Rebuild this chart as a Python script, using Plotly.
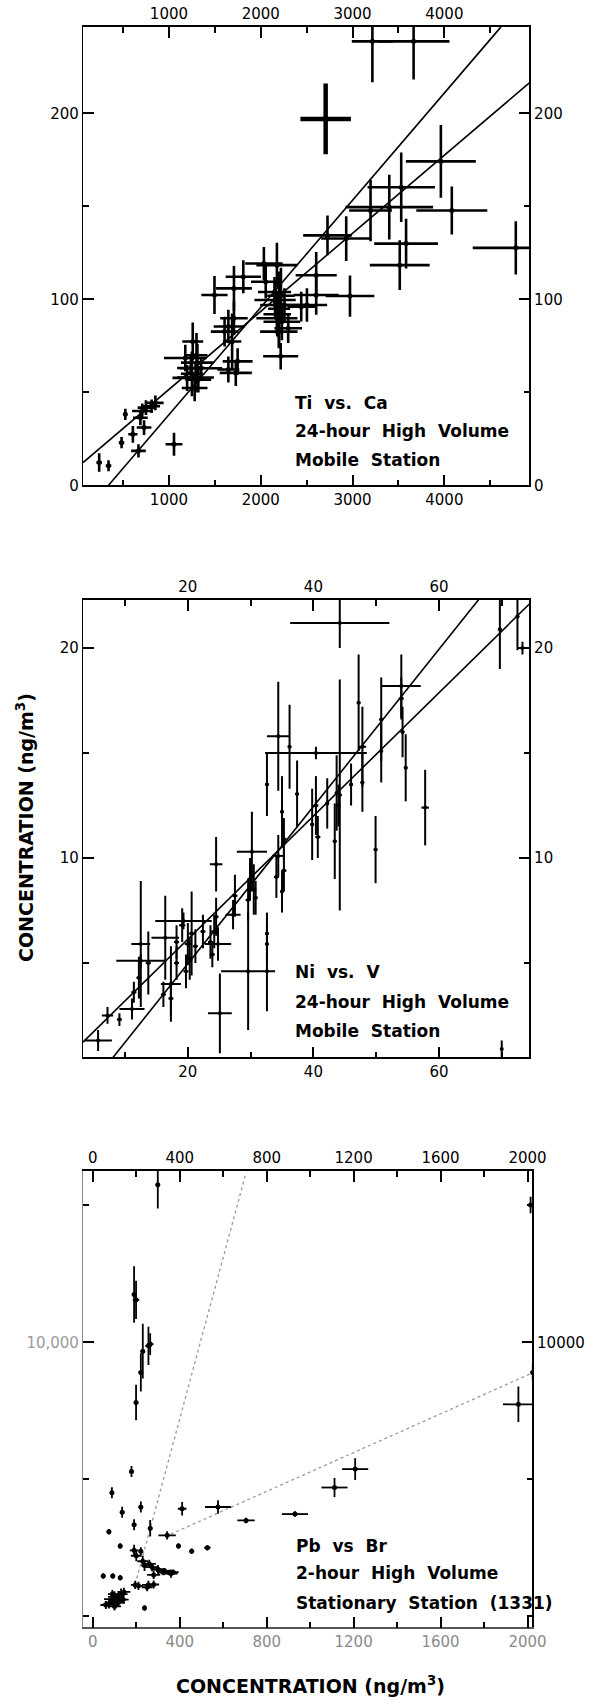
import plotly.graph_objects as go

# ---------------- Panel 1: Ti vs. Ca (24-hour High Volume, Mobile Station) ----------------
ca = [3216, 3665, 3962, 3530, 3196, 3400, 4081, 4778, 3583, 3514, 2931, 2727, 2972, 2604, 2604, 2503,
      2034, 2176, 2054, 2156, 2258, 2176, 2197, 2217, 2299, 2441, 2200, 2220, 1810, 1496, 1708, 1708,
      1647, 1606, 1688, 1748, 1728, 1647, 1259, 1178, 1239, 1198, 1320, 1280, 1350, 1300, 811, 709,
      689, 729, 607, 484, 668, 1055, 240, 342, 525, 749, 852,
      2180, 2230, 2150, 1290, 1310, 1250]
ti = [238.7, 238.7, 174.2, 160.3, 147.8, 149.6, 147.8, 127.7, 130.0, 118.4, 132.7, 134.4, 101.8, 113.0,
      102.4, 97.0, 119.3, 118.4, 109.5, 99.7, 97.0, 89.9, 82.7, 69.4, 84.5, 96.1, 95.0, 102.0, 112.2,
      102.4, 105.9, 89.9, 85.4, 82.7, 77.4, 66.7, 60.5, 62.3, 77.4, 68.5, 63.1, 57.8, 56.9, 52.4, 63.0,
      70.0, 42.6, 40.0, 36.4, 31.1, 27.5, 23.0, 18.6, 22.1, 12.3, 10.6, 38.2, 41.8, 44.4,
      92, 88, 104, 58, 66, 60]
ca_err = [224, 390, 381, 367, 233, 477, 387, 469, 347, 326, 273, 265, 265, 224, 245, 220, 204, 224, 160,
          225, 265, 224, 204, 191, 150, 150, 120, 150, 192, 143, 195, 150, 160, 150, 100, 163, 175, 120,
          114, 232, 150, 160, 140, 140, 230, 120, 92, 110, 80, 80, 50, 30, 80, 92, 30, 30, 20, 90, 90,
          150, 200, 180, 200, 180, 120]
ti_err = [22, 20.5, 19.6, 18.7, 16.5, 17.4, 12.9, 14.3, 13.4, 13.4, 12, 10.7, 11.1, 12.5, 10.7, 9, 8.9,
          12, 9, 10, 9, 8.9, 9, 7.1, 8, 8, 20, 15, 8.9, 10.2, 12, 9, 9, 8, 15, 7.1, 7, 7, 10.2, 7.1, 7, 7,
          7, 7.1, 6, 12, 3.6, 4, 4, 4, 4.5, 3, 3.6, 6.2, 5, 3, 3, 4, 4,
          12, 10, 8, 8, 10, 12]
big_ca, big_ti, big_ca_err, big_ti_err = [2707], [197], [275], [19]
ti_fit_a_x, ti_fit_a_y = [340, 4617], [0, 246.5]
ti_fit_b_x, ti_fit_b_y = [64, 4926], [12.3, 216.4]

# ---------------- Panel 2: Ni vs. V (24-hour High Volume, Mobile Station) ----------------
v = [44.2, 44.2, 69.7, 72.5, 73.3, 54, 54, 47.2, 50.8, 54.2, 34.4, 36.2, 40.4, 47.8, 50.8, 54.7, 47.8,
     32.6, 37.4, 35, 57.8, 40.4, 42.2, 46, 43.7, 44, 43.4, 39.8, 40.7, 49.9, 30.2, 35.3, 34.4, 35.3, 34.1,
     35, 24.5, 29.9, 30.5, 29.6, 30.8, 27.5, 27.2, 24.5, 24.2, 24.8, 23.9, 23.6, 20.6, 20, 20.3, 19.1,
     19.3, 16.4, 18.2, 21.2, 22.4, 18.2, 19.7, 17.3, 17.3, 16.1, 12.5, 12.5, 12.2, 11.4, 13.7, 11.1, 7.2,
     9.1, 5.7, 29.6, 32.6, 32.6, 32.6, 25.1, 70]
ni = [21.2, 13.0, 20.9, 21.5, 20.0, 18.2, 17.6, 17.4, 16.6, 16.0, 15.8, 15.3, 15.0, 15.3, 15.1, 14.3,
      13.6, 13.5, 13.05, 12.2, 12.4, 12.5, 12.6, 13.5, 13.1, 12.5, 10.8, 11.6, 11.0, 10.4, 10.3, 10.9,
      10.1, 9.4, 9.1, 8.4, 9.7, 9.0, 8.5, 8.0, 8.1, 8.2, 7.3, 7.2, 6.5, 5.9, 5.4, 6.0, 6.4, 5.9, 5.2, 6.8,
      7.0, 6.2, 6.0, 5.8, 6.5, 5.0, 4.6, 4.0, 3.3, 3.5, 5.9, 5.1, 4.3, 3.6, 5.0, 2.8, 2.5, 2.3, 1.3, 4.6,
      4.6, 6.4, 5.9, 2.6, 0.9]
v_err = [7.9, 0.3, 0.3, 0.3, 0.7, 3.1, 0.4, 0.3, 0.3, 0.3, 1.8, 0.3, 8.1, 0.6, 0.3, 0.3, 0.3, 0.3, 0.3,
         0.3, 0.6, 0.4, 0.3, 0.3, 0.3, 0.3, 0.3, 0.3, 0.4, 0.3, 2.4, 0.4, 1.0, 0.4, 0.4, 0.3, 1.0, 0.4, 0.4,
         0.4, 0.3, 0.4, 1.2, 0.4, 0.5, 2.1, 0.4, 0.4, 0.5, 0.5, 0.4, 0.5, 4.5, 2.2, 0.4, 0.4, 0.4, 0.4, 0.4,
         1.6, 0.4, 0.4, 1.5, 3.9, 0.4, 0.4, 0.4, 2.0, 0.9, 0.4, 2.2, 4.3, 0.3, 0.3, 0.3, 1.9, 0.2]
ni_err = [1.2, 5.5, 1.9, 1.6, 0.3, 1.5, 1.0, 2.3, 2.0, 1.2, 2.6, 2.0, 0.3, 1.9, 1.5, 1.6, 1.4, 1.5, 1.6,
          1.7, 1.8, 1.4, 1.2, 1.0, 1.8, 1.0, 1.8, 1.7, 1.0, 1.6, 1.9, 1.0, 1.0, 1.0, 1.0, 1.0, 1.3, 1.0, 1.2,
          1.0, 0.8, 1.0, 0.7, 0.9, 0.8, 0.8, 0.6, 0.8, 2.0, 1.0, 1.0, 0.8, 0.4, 2.0, 0.8, 0.8, 0.8, 0.8, 0.8,
          1.8, 0.8, 0.6, 3.0, 0.3, 1.0, 0.5, 1.5, 0.5, 0.4, 0.3, 0.5, 2.8, 1.9, 1.0, 0.9, 1.9, 0.4]
ni_fit_a_x, ni_fit_a_y = [3.3, 74.4], [1.23, 22.1]
ni_fit_b_x, ni_fit_b_y = [8.07, 66.3], [0.5, 22.3]

# ---------------- Panel 3: Pb vs Br (2-hour High Volume, Stationary Station 1331) ----------------
br = [299, 2014, 190, 199, 230, 221, 256, 264, 199, 1958, 2024, 1207, 1112, 930, 705, 576, 411, 178, 88,
      135, 221, 190, 264, 342, 394, 455, 527, 74, 126, 221, 238, 273, 325, 351, 195, 256, 143, 92, 74,
      118, 48, 92, 126, 238, 100, 110, 130, 115, 280, 300, 360,
      60, 80, 100, 120, 140, 90, 200, 230, 260, 300, 330, 370, 210, 250, 280, 190]
pb = [15758, 15020, 11746, 11552, 9676, 8900, 9870, 9935, 7800, 7735, 8900, 5367, 4694, 3723, 3490, 3982,
      3917, 5277, 4500, 3789, 3982, 3335, 3206, 2947, 2558, 2365, 2494, 3077, 2558, 2365, 1847, 1783,
      1589, 1589, 1135, 1135, 877, 617, 424, 489, 1460, 1460, 1395, 294, 700, 550, 800, 650, 1500, 1700,
      1550,
      400, 500, 350, 700, 600, 800, 2200, 2000, 1900, 1700, 1650, 1600, 1100, 1050, 1150, 2400]
br_err = [10, 10, 10, 15, 10, 10, 15, 15, 10, 71, 10, 60, 60, 60, 40, 60, 20, 10, 10, 10, 10, 10, 10, 40,
          10, 10, 15, 10, 10, 10, 15, 30, 30, 30, 20, 30, 30, 40, 30, 30, 10, 10, 10, 10, 30, 30, 30, 30, 30,
          30, 30,
          25, 25, 30, 25, 25, 20, 25, 25, 30, 30, 25, 25, 20, 25, 25, 20]
pb_err = [870, 300, 1035, 700, 1000, 700, 700, 400, 650, 650, 300, 400, 350, 100, 100, 250, 250, 200, 200,
          200, 200, 200, 300, 150, 100, 100, 100, 100, 100, 150, 200, 150, 100, 100, 150, 150, 150, 200, 150,
          150, 100, 100, 100, 100, 200, 200, 200, 200, 150, 150, 150,
          150, 150, 150, 200, 150, 150, 200, 200, 150, 150, 100, 100, 150, 150, 150, 200]
pb_fit_a_x, pb_fit_a_y = [195, 705], [1160, 16200]
pb_fit_b_x, pb_fit_b_y = [333, 2022], [2900, 8880]

# ---------------- Figure ----------------
W, H = 601, 1707
fig = go.Figure()


def err(arr, th, color="black"):
    return dict(type="data", array=arr, visible=True, width=0, thickness=th, color=color)


def pts(x, y, ex, ey, xa, ya, th, size=4, color="black"):
    fig.add_trace(go.Scatter(x=x, y=y, mode="markers", xaxis=xa, yaxis=ya,
                             marker=dict(size=size, color=color),
                             error_x=err(ex, th, color), error_y=err(ey, th, color),
                             showlegend=False, hoverinfo="skip"))


def line(x, y, xa, ya, color="black", width=1.6, dash="solid"):
    fig.add_trace(go.Scatter(x=x, y=y, mode="lines", xaxis=xa, yaxis=ya,
                             line=dict(color=color, width=width, dash=dash),
                             showlegend=False, hoverinfo="skip"))


def dummy(xa, ya):
    fig.add_trace(go.Scatter(x=[None], y=[None], mode="markers", xaxis=xa, yaxis=ya,
                             showlegend=False, hoverinfo="skip"))


# panel 1
line(ti_fit_a_x, ti_fit_a_y, "x", "y")
line(ti_fit_b_x, ti_fit_b_y, "x", "y")
pts(ca, ti, ca_err, ti_err, "x", "y", 2.6, size=5)
pts(big_ca, big_ti, big_ca_err, big_ti_err, "x", "y", 4.5, size=6)
dummy("x2", "y2")
# panel 2
line(ni_fit_a_x, ni_fit_a_y, "x3", "y3")
line(ni_fit_b_x, ni_fit_b_y, "x3", "y3")
pts(v, ni, v_err, ni_err, "x3", "y3", 2.0, size=4)
dummy("x4", "y4")
# panel 3
line(pb_fit_a_x, pb_fit_a_y, "x5", "y5", color="#9a9a9a", width=1.3, dash="dot")
line(pb_fit_b_x, pb_fit_b_y, "x5", "y5", color="#9a9a9a", width=1.3, dash="dot")
pts(br, pb, br_err, pb_err, "x5", "y5", 1.8, size=5)
dummy("x6", "y6")

tickfont = dict(family="DejaVu Sans", size=15, color="black")


def ax(**kw):
    base = dict(showline=True, linecolor="black", linewidth=1.5, ticks="inside", ticklen=11,
                tickwidth=1.5, tickcolor="black", showgrid=False, zeroline=False, tickfont=tickfont,
                fixedrange=True)
    base.update(kw)
    return base


def minor(vals):
    return dict(tickvals=vals, ticks="inside", ticklen=6, tickwidth=1.5, tickcolor="black", showgrid=False)


panels = [  # pixel boxes of the three plot areas
    (85, 542, 27, 488),
    (85, 542, 603, 1063),
    (85, 545, 1177, 1636),
]
dom = []
for x0, x1, y0, y1 in panels:
    dom.append(([x0 / W, x1 / W], [1 - y1 / H, 1 - y0 / H]))

# panel 1 axes
xr1, yr1 = [64, 4926], [0, 246.5]
xt1, xm1 = [1000, 2000, 3000, 4000], [500, 1500, 2500, 3500, 4500]
yt1, ym1 = [0, 100, 200], [50, 150]
# panel 2 axes
xr2, yr2 = [3.3, 74.4], [0.5, 22.3]
xt2, xm2 = [20, 40, 60], [10, 30, 50, 70]
yt2, ym2 = [10, 20], [5, 15]
# panel 3 axes
xr3, yr3 = [-45, 2022], [-417, 16268]
xt3, xm3 = [0, 400, 800, 1200, 1600, 2000], [200, 600, 1000, 1400, 1800]
yt3, ym3 = [10000], [0, 5000, 15000]

fig.update_layout(
    width=W, height=H, margin=dict(l=0, r=0, t=0, b=0),
    paper_bgcolor="white", plot_bgcolor="white", showlegend=False,
    xaxis=ax(domain=dom[0][0], anchor="y", range=xr1, tickvals=xt1, minor=minor(xm1)),
    xaxis2=ax(domain=dom[0][0], anchor="y", overlaying="x", side="top", range=xr1, tickvals=xt1,
              minor=minor(xm1)),
    yaxis=ax(domain=dom[0][1], anchor="x", range=yr1, tickvals=yt1, minor=minor(ym1), linewidth=1.2),
    yaxis2=ax(domain=dom[0][1], anchor="x", overlaying="y", side="right", range=yr1, tickvals=yt1,
              minor=minor(ym1)),
    xaxis3=ax(domain=dom[1][0], anchor="y3", range=xr2, tickvals=xt2, minor=minor(xm2)),
    xaxis4=ax(domain=dom[1][0], anchor="y3", overlaying="x3", side="top", range=xr2, tickvals=xt2,
              minor=minor(xm2)),
    yaxis3=ax(domain=dom[1][1], anchor="x3", range=yr2, tickvals=yt2, minor=minor(ym2), linewidth=1.2),
    yaxis4=ax(domain=dom[1][1], anchor="x3", overlaying="y3", side="right", range=yr2, tickvals=yt2,
              minor=minor(ym2)),
    xaxis5=ax(domain=dom[2][0], anchor="y5", range=xr3, tickvals=xt3, minor=minor(xm3),
              tickfont=dict(family="DejaVu Sans", size=15, color="#8a8a8a"), linecolor="#555"),
    xaxis6=ax(domain=dom[2][0], anchor="y5", overlaying="x5", side="top", range=xr3, tickvals=xt3,
              minor=minor(xm3)),
    yaxis5=ax(domain=dom[2][1], anchor="x5", range=yr3, tickvals=yt3, ticktext=["10,000"],
              minor=minor(ym3), linecolor="#8a8a8a", linewidth=1.2,
              tickfont=dict(family="DejaVu Sans", size=15, color="#9a9a9a")),
    yaxis6=ax(domain=dom[2][1], anchor="x5", overlaying="y5", side="right", range=yr3, tickvals=yt3,
              ticktext=["10000"], minor=minor(ym3)),
)

lab = dict(family="DejaVu Sans", size=17, color="black")
notes = [
    ("x domain", "y domain", ["Ti  vs.  Ca", "24-hour  High  Volume", "Mobile  Station"],
     [0.18, 0.119, 0.056]),
    ("x3 domain", "y3 domain", ["Ni  vs.  V", "24-hour  High  Volume", "Mobile  Station"],
     [0.187, 0.12, 0.057]),
    ("x5 domain", "y5 domain", ["Pb  vs  Br", "2-hour  High  Volume", "Stationary  Station  (1331)"],
     [0.179, 0.118, 0.054]),
]
for xr, yr, texts, ys in notes:
    for t, yy in zip(texts, ys):
        fig.add_annotation(xref=xr, yref=yr, x=0.47, y=yy, text="<b>" + t + "</b>", showarrow=False,
                           xanchor="left", yanchor="middle", font=lab)

title_font = dict(family="DejaVu Sans", size=19, color="black")
fig.add_annotation(xref="paper", yref="paper", x=25 / W, y=1 - 832 / H,
                   text="<b>CONCENTRATION (ng/m<sup>3</sup>)</b>", textangle=-90, showarrow=False,
                   xanchor="center", yanchor="middle", font=title_font)
fig.add_annotation(xref="paper", yref="paper", x=318 / W, y=1 - 1694 / H,
                   text="<b>CONCENTRATION (ng/m<sup>3</sup>)</b>", showarrow=False,
                   xanchor="center", yanchor="middle", font=title_font)

fig.write_html("out.html")
